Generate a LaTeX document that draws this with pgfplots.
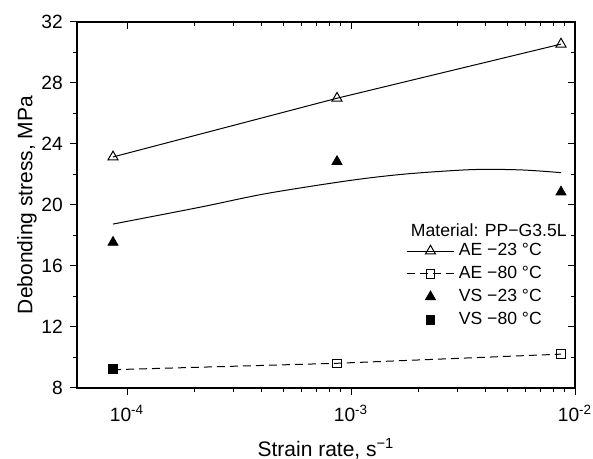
\documentclass[border=0pt]{standalone}
\usepackage{fontspec}
\setmainfont{Liberation Sans}
\usepackage{pgfplots}
\pgfplotsset{compat=1.18}
\usetikzlibrary{calc}
\begin{document}
\begin{tikzpicture}
\begin{axis}[name=ax,
  scale only axis, width=249pt, height=183pt,
  xmode=log, xmin=5.98e-5, xmax=1e-2, ymin=8, ymax=32,
  ytick={8,12,...,32}, minor y tick num=1,
  xtick={1e-4,1e-3,1e-2},
  major tick length=3.6pt, minor tick length=2pt,
  tick style={black, line width=0.5pt},
  axis line style={line width=0.6pt},
  tick align=outside, xtick pos=left, ytick pos=left,
  xticklabels={10\textsuperscript{-4},10\textsuperscript{-3},10\textsuperscript{-2}},
  /pgf/number format/assume math mode=true,
  tick label style={font=\fontsize{9.6}{11}\selectfont},
  xticklabel style={yshift=-1.5pt},
  label style={font=\fontsize{10.5}{12}\selectfont},
  xlabel={Strain rate, s\textsuperscript{−1}},
  ylabel={Debonding stress, MPa},
  xlabel style={at={(axis description cs:0.5,-0.167)}, anchor=center},
  ylabel style={at={(axis description cs:-0.1004,0.5)}, anchor=center},
  legend style={draw=none, fill=none, font=\fontsize{8.8}{10}\selectfont,
    at={(rel axis cs:0.66,0.407)}, anchor=north west,
    row sep=-0.2pt, inner sep=0pt},
  legend cell align=left,
  legend image code/.code={\draw[mark repeat=2,mark phase=2] plot coordinates {(0cm,0cm)(0.42cm,0cm)(0.84cm,0cm)};},
]
\addplot[black, line width=0.5pt, mark=triangle, mark size=2.9pt, mark options={solid, fill=white}]
  coordinates {(8.66e-5,23.15) (8.66e-4,27.0) (8.66e-3,30.55)};
\addlegendentry{AE −23 °C}
\addplot[black, line width=0.5pt, dash pattern=on 4pt off 2.5pt, mark=square, mark size=2.1pt, mark options={solid, fill=white}]
  coordinates {(8.66e-5,9.2) (8.66e-4,9.62) (8.66e-3,10.22)};
\addlegendentry{AE −80 °C}
\addplot[black, only marks, mark=triangle*, mark size=2.9pt]
  coordinates {(8.66e-5,17.55) (8.66e-4,22.85) (8.66e-3,20.85)};
\addlegendentry{VS −23 °C}
\addplot[black, only marks, mark=square*, mark size=2.1pt]
  coordinates {(8.66e-5,9.3)};
\addlegendentry{VS −80 °C}
\addplot[black, line width=0.5pt, smooth, forget plot]
  coordinates {(8.66e-5,18.75) (2.11e-4,19.85) (4.19e-4,20.75) (9.8e-4,21.6) (1.75e-3,22.03) (3.47e-3,22.32) (5.75e-3,22.3) (8.66e-3,22.12)};
\node[anchor=east, font=\fontsize{8.8}{10}\selectfont, inner sep=0pt] at (rel axis cs:0.984,0.43) {Material: PP−G3.5L};
\end{axis}
\begin{axis}[
  scale only axis, width=249pt, height=183pt,
  xmode=log, xmin=5.98e-5, xmax=1e-2, ymin=8, ymax=32,
  ytick={8,12,...,32}, minor y tick num=1,
  xtick={1e-4,1e-3,1e-2},
  major tick length=3.6pt, minor tick length=2pt,
  tick style={black, line width=0.5pt},
  tick align=inside, xtick pos=right, ytick pos=right,
  xticklabels={}, yticklabels={}, axis line style={draw=none}]
\end{axis}
\pgfresetboundingbox
\path ($(ax.south west)+(-38.5pt,-35.5pt)$) rectangle ($(ax.north east)+(9pt,11pt)$);
\end{tikzpicture}
\end{document}
